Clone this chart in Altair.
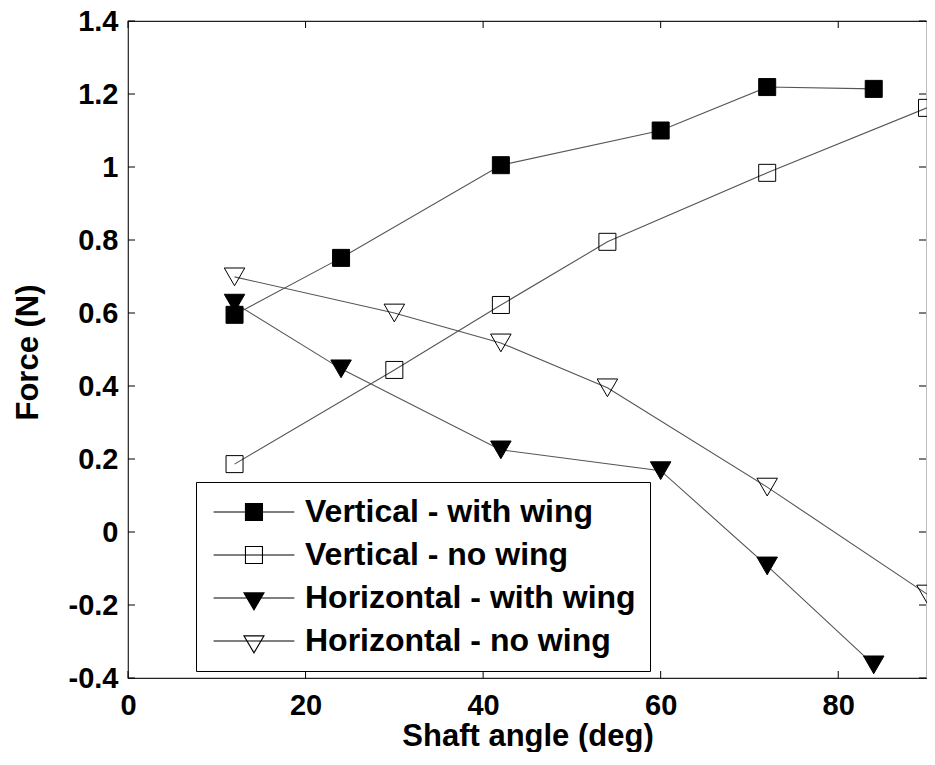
import altair as alt
import pandas as pd

# ---- data ----
series_names = ["Vertical - with wing", "Vertical - no wing",
                "Horizontal - with wing", "Horizontal - no wing"]

vw_x = [12, 24, 42, 60, 72, 84]
vw_y = [0.595, 0.751, 1.005, 1.100, 1.219, 1.214]

vn_x = [12, 30, 42, 54, 72, 90]
vn_y = [0.186, 0.444, 0.622, 0.795, 0.984, 1.162]

hw_x = [12, 24, 42, 60, 72, 84]
hw_y = [0.627, 0.447, 0.225, 0.168, -0.093, -0.364]

hn_x = [12, 30, 42, 54, 72, 90]
hn_y = [0.699, 0.600, 0.518, 0.395, 0.123, -0.170]

x_ticks = [0, 20, 40, 60, 80]
y_ticks = [-0.4, -0.2, 0, 0.2, 0.4, 0.6, 0.8, 1.0, 1.2, 1.4]

rows = []
for name, xs, ys in zip(series_names, [vw_x, vn_x, hw_x, hn_x], [vw_y, vn_y, hw_y, hn_y]):
    for a, b in zip(xs, ys):
        rows.append({"series": name, "x": a, "y": b})
df = pd.DataFrame(rows)

W, H = 799, 657
FONT = "Liberation Sans"

xscale = alt.Scale(domain=[0, 90], nice=False, zero=False)
yscale = alt.Scale(domain=[-0.4, 1.4], nice=False, zero=False)

xaxis = alt.Axis(values=x_ticks, title="Shaft angle (deg)", grid=False, ticks=False,
                 domain=False, labelPadding=13, labelFontSize=29, titleFontSize=31,
                 labelFlush=False,
                 titleY=67, titleBaseline="alphabetic")
yaxis = alt.Axis(values=y_ticks, title="Force (N)", grid=False, ticks=False,
                 domain=False, labelPadding=10, labelFontSize=29, titleFontSize=31,
                 labelFlush=False, format=".1~f",
                 labelExpr="replace(datum.label, '\u2212', '-')",
                 titleX=-91, titleY=331, titleAngle=270, titleAlign="center",
                 titleBaseline="alphabetic")

base = alt.Chart(df)

lines = base.mark_line(color="#555555", strokeWidth=1.1, clip=True).encode(
    x=alt.X("x:Q", scale=xscale, axis=xaxis),
    y=alt.Y("y:Q", scale=yscale, axis=yaxis),
    detail="series:N",
    order="x:Q",
)

marker_style = {
    "Vertical - with wing": dict(shape="square", filled=True, size=289),
    "Vertical - no wing": dict(shape="square", filled=False, size=289),
    "Horizontal - with wing": dict(shape="triangle-down", filled=True, size=420),
    "Horizontal - no wing": dict(shape="triangle-down", filled=False, size=420),
}

point_layers = []
for name in series_names:
    st = marker_style[name]
    if st["filled"]:
        mk = base.mark_point(shape=st["shape"], size=st["size"], filled=True,
                             fill="black", stroke="black", strokeWidth=1,
                             opacity=1, clip=True)
    else:
        mk = base.mark_point(shape=st["shape"], size=st["size"], filled=False,
                             fill="transparent", stroke="black", strokeWidth=1,
                             opacity=1, clip=True)
    point_layers.append(
        mk.encode(x=alt.X("x:Q", scale=xscale), y=alt.Y("y:Q", scale=yscale))
        .transform_filter(alt.datum.series == name)
    )

# legend symbols: line with marker (custom paths, unit = 8.5 px)
legend_paths = [
    "M-1.46,0H8.04M2.29,-1H4.29V1H2.29Z",
    "M-1.46,0H8.04M2.29,-1H4.29V1H2.29Z",
    "M-1.46,0H8.04M2.11,-0.6H4.47L3.29,1.4Z",
    "M-1.46,0H8.04M2.11,-0.6H4.47L3.29,1.4Z",
]
legend_fills = ["black", "transparent", "black", "transparent"]

leg = alt.Legend(
    title=None, orient="none", legendX=68, legendY=461,
    labelFont=FONT, labelFontWeight="bold", labelFontSize=32, labelColor="black",
    labelLimit=0,
    symbolSize=289, symbolStrokeWidth=1.1, symbolOpacity=1,
    labelOffset=63, rowPadding=11, padding=14,
    strokeColor="black", fillColor="white", cornerRadius=0,
)

legend_layer = base.mark_point(opacity=0, stroke="black", strokeWidth=1.1, clip=True).encode(
    x=alt.X("x:Q", scale=xscale),
    y=alt.Y("y:Q", scale=yscale),
    shape=alt.Shape("series:N", scale=alt.Scale(domain=series_names, range=legend_paths), legend=leg),
    fill=alt.Fill("series:N", scale=alt.Scale(domain=series_names, range=legend_fills), legend=leg),
)

# inward ticks (MATLAB style)
xt = alt.Chart(pd.DataFrame({"t": x_ticks}))
yt = alt.Chart(pd.DataFrame({"t": y_ticks}))
tick_style = dict(color="black", strokeWidth=1)
bottom_ticks = xt.mark_rule(**tick_style).encode(
    x=alt.X("t:Q", scale=xscale), y=alt.value(H), y2=alt.value(H - 7))
top_ticks = xt.mark_rule(**tick_style).encode(
    x=alt.X("t:Q", scale=xscale), y=alt.value(0), y2=alt.value(7))
left_ticks = yt.mark_rule(**tick_style).encode(
    y=alt.Y("t:Q", scale=yscale), x=alt.value(0), x2=alt.value(7))
right_ticks = yt.mark_rule(**tick_style).encode(
    y=alt.Y("t:Q", scale=yscale), x=alt.value(W - 1), x2=alt.value(W - 8))

chart = alt.layer(
    lines, *point_layers, legend_layer,
    bottom_ticks, top_ticks, left_ticks, right_ticks,
).properties(
    width=W, height=H,
    autosize=alt.AutoSizeParams(type="none"),
    padding={"left": 120, "top": 13, "right": 0, "bottom": 74},
    background="white",
).configure_view(
    stroke="#222222", strokeWidth=1.2,
).configure_axis(
    labelFont=FONT, labelFontWeight="bold", labelColor="black",
    titleFont=FONT, titleFontWeight="bold", titleColor="black",
)

chart.save("out.html", embed_options={"renderer": "svg", "actions": False})
